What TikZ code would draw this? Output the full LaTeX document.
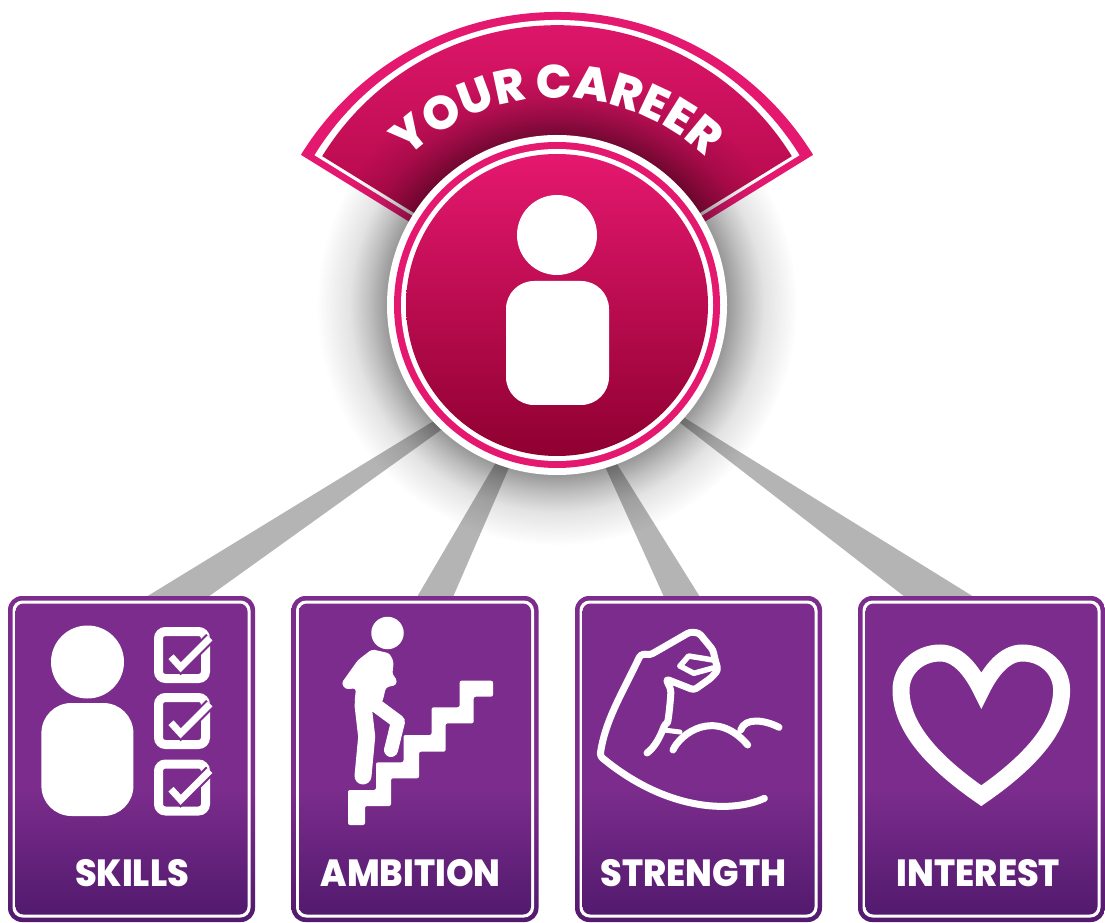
\documentclass[tikz,border=0pt]{standalone}
\usepackage{fontspec}
\setmainfont{Poppins}
\newfontfamily\heavyfont{Poppins ExtraBold}
\usetikzlibrary{backgrounds, calc, decorations.text, fadings}
\definecolor{careerpink}{HTML}{E5186F}
\definecolor{careerdeep}{HTML}{8F0030}
\definecolor{tilepurple}{HTML}{7B2C8C}
\definecolor{tiledark}{HTML}{521A6E}
\definecolor{bandgrey}{HTML}{B4B4B4}
\pgfdeclareverticalshading{tileshade}{100bp}{color(0bp)=(tiledark); color(25bp)=(tiledark); color(45bp)=(tilepurple); color(100bp)=(tilepurple)}
\pgfdeclareradialshading{glowshade}{\pgfpointorigin}{color(0bp)=(pgftransparent!60); color(17.7bp)=(pgftransparent!60); color(19.5bp)=(pgftransparent!75); color(21.5bp)=(pgftransparent!89); color(25bp)=(pgftransparent!100); color(50bp)=(pgftransparent!100)}
\pgfdeclarefading{glowfade}{\pgfuseshading{glowshade}}
\tikzset{
    ring/.style={circle, inner sep=0pt, outer sep=0pt, minimum size=#1},
    tilebox/.style={rectangle, inner sep=0pt, outer sep=0pt, shade, shading=tileshade, rounded corners=14pt, minimum width=247pt, minimum height=326pt},
    tileline/.style={rectangle, inner sep=0pt, outer sep=0pt, fill=white, rounded corners=10pt, minimum width=238pt, minimum height=317pt},
    tilefill/.style={rectangle, inner sep=0pt, outer sep=0pt, shade, shading=tileshade, rounded corners=8pt, minimum width=232pt, minimum height=311pt},
    tilelabel/.style={text=white, font=\fontsize{35}{35}\selectfont\heavyfont, inner sep=0pt, yscale=1.08, transform shape},
    band/.style={fill=bandgrey},
    icon/.style={draw=white, line width=7pt, line cap=round, line join=round},
    ticksquare/.style={rectangle, draw=white, line width=9pt, rounded corners=7pt, inner sep=0pt, outer sep=0pt, minimum size=47pt},
    tickmark/.style={draw=tilepurple, line width=2pt, double=white, double distance=7pt, line join=miter}
}
\begin{document}
\begin{tikzpicture}[x=1pt, y=1pt]
    \useasboundingbox (0, 0) rectangle (1105, 922);
    % fan behind the circle
    \fill[careerpink] (557, 609) -- ++(148.3:301) arc (148.3:31.7:301) -- cycle;
    \fill[white] (557, 617) -- ++(148.3:285) arc (148.3:31.7:285) -- cycle;
    \shade[top color=careerpink, bottom color=careerdeep!80!careerpink] (557, 620.8) -- ++(148.3:276) arc (148.3:31.7:276) -- cycle;
    \fill[black, path fading=glowfade] (557, 617) circle (240);
    \path[decorate, decoration={text along path, text align=center, text={|\fontsize{47}{47}\selectfont\heavyfont\color{white}|YOUR CAREER}}] (557, 609) ++(150:215) arc (150:30:215);
    % circle
    \node[ring=340pt, fill=white] (careerout) at (557, 617) {};
    \node[ring=326pt, fill=careerpink] (careerring) at (careerout) {};
    \node[ring=312pt, fill=white] (careerline) at (careerout) {};
    \node[ring=302pt, top color=careerpink, bottom color=careerdeep] (careerdisc) at (careerout) {};
    \node[ring=80pt, fill=white] (careerhead) at (557, 687) {};
    \node[rectangle, fill=white, rounded corners=28pt, inner sep=0pt, minimum width=103pt, minimum height=124pt] (careerbody) at (557.5, 579) {};
    % tiles
    \node[tilebox] (skills) at (131.5, 163) {};
    \node[tileline] (skillsline) at (skills) {};
    \node[tilefill] (skillsfill) at (skills) {};
    \node[tilelabel] (skillstext) at (132, 48.5) {SKILLS};
    \node[tilebox] (ambition) at (415, 163) {};
    \node[tileline] (ambitionline) at (ambition) {};
    \node[tilefill] (ambitionfill) at (ambition) {};
    \node[tilelabel] (ambitiontext) at (410.5, 48.5) {AMBITION};
    \node[tilebox] (strength) at (698.5, 163) {};
    \node[tileline] (strengthline) at (strength) {};
    \node[tilefill] (strengthfill) at (strength) {};
    \node[tilelabel] (strengthtext) at (693.5, 48.5) {STRENGTH};
    \node[tilebox] (interest) at (981.5, 163) {};
    \node[tileline] (interestline) at (interest) {};
    \node[tilefill] (interestfill) at (interest) {};
    \node[tilelabel] (interesttext) at (978.5, 48.5) {INTEREST};
    % bands from the circle to the tiles
    \begin{scope}[on background layer]
        \fill[band] ($(skills.north)+(14.5, -1)$) -- ($(skills.north)+(76.5, -1)$) -- ($(careerout)+(-109, -120)$) -- ($(careerout)+(-120, -114)$) -- cycle;
        \fill[band] ($(ambition.north)+(2, -1)$) -- ($(ambition.north)+(38, -1)$) -- ($(careerout)+(-36, -135)$) -- ($(careerout)+(-48, -135)$) -- cycle;
        \fill[band] ($(strength.north)+(-34.5, -1)$) -- ($(strength.north)+(1.5, -1)$) -- ($(careerout)+(45, -135)$) -- ($(careerout)+(36, -135)$) -- cycle;
        \fill[band] ($(interest.north)+(-76.5, -1)$) -- ($(interest.north)+(-7.5, -1)$) -- ($(careerout)+(123, -110)$) -- ($(careerout)+(113, -110)$) -- cycle;
    \end{scope}
    % skills icon
    \node[ring=73pt, fill=white] (skillshead) at (87.5, 260) {};
    \node[rectangle, fill=white, rounded corners=30pt, inner sep=0pt, minimum width=92pt, minimum height=113pt] (skillsbody) at (87.4, 162.5) {};
    \node[ticksquare] (tickone) at (182, 267) {};
    \node[ticksquare] (ticktwo) at (182, 201) {};
    \node[ticksquare] (tickthree) at (182, 134.5) {};
    \draw[tickmark, shift={(tickone)}] (-11, -1.7) -- (-1.3, -12.3) -- (28, 17);
    \draw[tickmark, shift={(ticktwo)}] (-11, -1.7) -- (-1.3, -12.3) -- (28, 17);
    \draw[tickmark, shift={(tickthree)}] (-11, -1.7) -- (-1.3, -12.3) -- (28, 17);
    % ambition icon
    \node[ring=32.5pt, fill=white] (climberhead) at (387.5, 289) {};
    \fill[white, rounded corners=2pt] (348, 97) -- (365, 97) -- (365, 116) -- (391, 116) -- (391, 143.7) -- (419, 143.7) -- (419, 170.3) -- (445.6, 170.3) -- (445.6, 198.7) -- (473.7, 198.7) -- (473.7, 225.3) -- (493, 225.3) -- (493, 241.3) -- (459.6, 241.3) -- (459.6, 214.7) -- (431.6, 214.7) -- (431.6, 187) -- (403.5, 187) -- (403.5, 159.7) -- (376, 159.7) -- (376, 132) -- (348, 132) -- cycle;
    \fill[white, rounded corners=3pt] (372, 272.7) -- (389.5, 268.7) -- (393.7, 260.3) -- (392.3, 247) -- (396.5, 243.7) -- (396.5, 237) -- (386, 234.7) -- (382.5, 220.3) -- (372, 208.7) -- (354.4, 218.7) -- (356, 233.7) -- (345.6, 232.7) -- (341.4, 238.7) -- (358, 262) -- cycle;
    \draw[white, line width=17pt, line cap=round, line join=round] (363, 217) -- (366.7, 185.3) -- (363, 146);
    \draw[white, line width=14pt, line cap=round, line join=round] (375.4, 217) -- (398, 200.3) -- (391, 172);
    % strength icon
    \draw[icon, rounded corners=3pt] (764.4, 123.7) .. controls (730, 108) and (665, 112) .. (600, 166) .. controls (605, 200) and (620, 225) .. (638, 262) .. controls (641, 268) and (645, 268) .. (650, 267) -- (664, 275) -- (690, 290) -- (699, 289) -- (713, 272) -- (714.7, 264) -- (718, 252) -- (711, 244) -- (694, 232) -- (666, 243) -- (671, 232) .. controls (670, 215) and (668, 200) .. (665, 198) .. controls (660, 185) and (655, 175) .. (647, 169);
    \draw[icon] (673, 172) .. controls (680, 188) and (715, 215) .. (747.7, 177);
    \draw[icon] (740.7, 192) .. controls (745, 205) and (765, 202) .. (779, 194.7);
    \draw[icon, line width=5pt] (664, 192) -- (680, 190);
    \draw[icon, line width=5.5pt] (680, 256) -- (688.6, 266) -- (713, 262);
    \draw[icon, line width=5.5pt] (680, 256) -- (693.8, 248.7) -- (713, 254);
    % interest icon
    \draw[white, line width=17pt, line join=miter] (981.3, 232) .. controls (991, 252) and (1005, 269) .. (1022.3, 269) .. controls (1045, 269) and (1061.6, 252) .. (1061.6, 232) .. controls (1061.6, 195) and (1030, 160) .. (981.3, 126.3) .. controls (932.6, 160) and (901, 195) .. (901, 232) .. controls (901, 252) and (917.6, 269) .. (940.3, 269) .. controls (957.6, 269) and (971.6, 252) .. cycle;
\end{tikzpicture}
\end{document}
